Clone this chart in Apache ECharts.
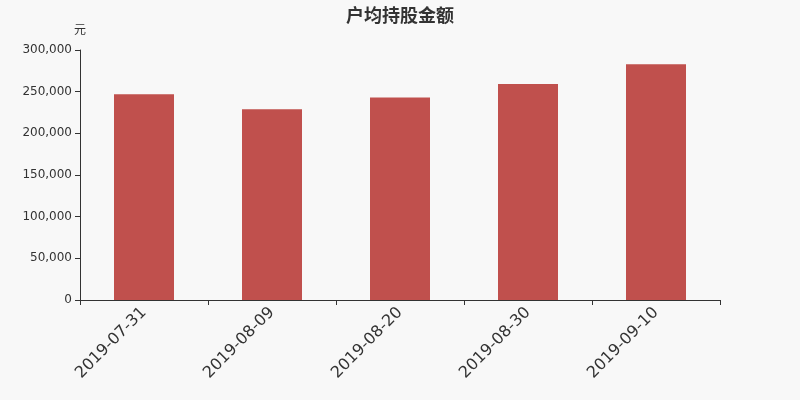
<!DOCTYPE html>
<html><head><meta charset="utf-8">
<script src="https://cdn.jsdelivr.net/npm/echarts@6/dist/echarts.min.js"></script>
<style>html,body{margin:0;padding:0;background:#f8f8f8}#c{width:800px;height:400px}</style>
</head><body><div id="c"></div>
<script>
const categories = ['2019-07-31','2019-08-09','2019-08-20','2019-08-30','2019-09-10'];
const values = [247000, 228800, 243000, 259200, 282800];
const yTicks = {min:0, max:300000, interval:50000};
const chart = echarts.init(document.getElementById('c'));
chart.setOption({
  backgroundColor:'#f8f8f8',
  animation:false,
  title:{text:'户均持股金额', left:'center', top:1, textStyle:{fontSize:18, fontWeight:'bold', color:'#333', fontFamily:'Noto Sans CJK SC'}},
  grid:{left:80, right:80, top:50, bottom:100},
  xAxis:{type:'category', data:categories, boundaryGap:true,
    axisLine:{lineStyle:{color:'#333'}}, axisTick:{show:true, lineStyle:{color:'#333'}},
    axisLabel:{rotate:45, fontSize:16, color:'#333', margin:10, fontFamily:'DejaVu Sans'}},
  yAxis:{type:'value', name:'元', nameGap:15, nameTextStyle:{color:'#333', fontSize:12, fontFamily:'Noto Sans CJK SC', align:'right', padding:[0,-6,0,0]},
    min:yTicks.min, max:yTicks.max, interval:yTicks.interval,
    axisLine:{show:true, lineStyle:{color:'#333'}}, axisTick:{show:true, lineStyle:{color:'#333'}},
    splitLine:{show:false},
    axisLabel:{color:'#333', fontSize:12, fontFamily:'DejaVu Sans', formatter:v=>v.toLocaleString('en-US')}},
  series:[{type:'bar', data:values, barWidth:60, itemStyle:{color:'#c0504d'}}]
});
</script></body></html>
